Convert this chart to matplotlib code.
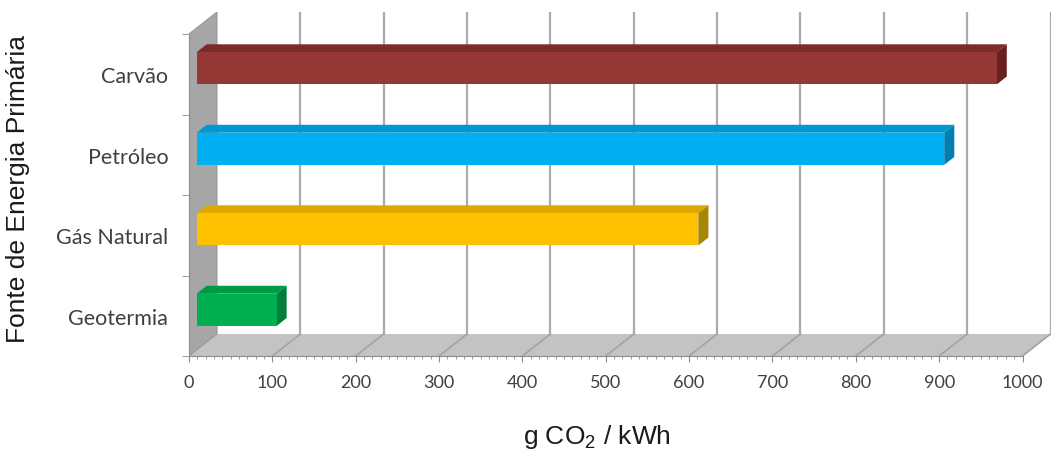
import matplotlib
matplotlib.use('Agg')
import matplotlib.pyplot as plt
from matplotlib.patches import Polygon, Rectangle
from matplotlib.ticker import FixedLocator

# data (bottom to top)
categories = ['Geotermia', 'Gás Natural', 'Petróleo', 'Carvão']
values = [96, 602, 897, 960]
front_colors = ['#00b050', '#ffc000', '#00b0f0', '#953735']
top_colors = ['#009944', '#dfa800', '#0098d2', '#7b2b29']
side_colors = ['#007f3a', '#a88400', '#0080b2', '#66211f']
x_ticks = list(range(0, 1001, 100))

# figure geometry in pixels (3D box of an Excel-style chart)
W, H = 1062, 456
x0_px, base_px = 189, 357
ppu = 0.8335          # pixels per g CO2/kWh
cat_px = 80.5         # pixels per category
Dx = 28 / ppu         # depth offset of the back wall, in data units
Dy = 22 / cat_px
f_front, f_back = 0.27, 0.63   # bar depth position inside the box
bar_h = 0.4

fig = plt.figure(figsize=(W / 100, H / 100), dpi=100)
xmax = 1000 + Dx
ymax = len(categories) + Dy
ax = fig.add_axes([x0_px / W, (H - base_px) / H, xmax * ppu / W, ymax * cat_px / H])
ax.set_xlim(0, xmax)
ax.set_ylim(0, ymax)
n = len(categories)

# floor
ax.add_patch(Polygon([(0, 0), (1000, 0), (1000 + Dx, Dy), (Dx, Dy)],
                     closed=True, facecolor='#c3c3c3', edgecolor='none', zorder=1))
# left wall
ax.add_patch(Polygon([(0, 0), (0, n), (Dx, n + Dy), (Dx, Dy)],
                     closed=True, facecolor='#a6a6a6', edgecolor='#999999', lw=0.8, zorder=2))

# grid lines on back wall and floor
for v in x_ticks[1:]:
    ax.plot([v + Dx, v + Dx], [Dy, n + Dy], color='#ababab', lw=1.6, zorder=1.5)
    ax.plot([v, v + Dx], [0, Dy], color='#a3a3a3', lw=1.2, zorder=1.5)

# bars: front face, top face, side face
for i, (v, fc, tc, sc) in enumerate(zip(values, front_colors, top_colors, side_colors)):
    yc = i + 0.5
    xf, yf = f_front * Dx, f_front * Dy
    xb, yb = f_back * Dx, f_back * Dy
    lo, hi = yc - bar_h / 2, yc + bar_h / 2
    ax.add_patch(Rectangle((xf, lo + yf), v, bar_h, facecolor=fc, edgecolor='none', zorder=4))
    ax.add_patch(Polygon([(xf, hi + yf), (xf + v, hi + yf), (xb + v, hi + yb), (xb, hi + yb)],
                         closed=True, facecolor=tc, edgecolor='none', zorder=3))
    ax.add_patch(Polygon([(xf + v, lo + yf), (xf + v, hi + yf), (xb + v, hi + yb), (xb + v, lo + yb)],
                         closed=True, facecolor=sc, edgecolor='none', zorder=3))

# axes styling
for s in ['top', 'right']:
    ax.spines[s].set_visible(False)
ax.spines['bottom'].set_bounds(0, 1000)
ax.spines['left'].set_bounds(0, n)
ax.spines['bottom'].set_color('#8c8c8c')
ax.spines['left'].set_color('#8c8c8c')
ax.spines['bottom'].set_zorder(5)

ax.xaxis.set_major_locator(FixedLocator(x_ticks))
ax.xaxis.set_minor_locator(FixedLocator(list(range(0, 1001, 10))))
ax.set_xticklabels([str(t) for t in x_ticks])
ax.tick_params(axis='x', which='major', length=4, color='#8c8c8c', pad=9,
               labelsize=13, labelcolor='#404040')
ax.tick_params(axis='x', which='minor', length=2, color='#8c8c8c')
for lab in ax.get_xticklabels():
    lab.set_family('Lato')

ax.yaxis.set_major_locator(FixedLocator([i + 0.5 for i in range(n)]))
ax.yaxis.set_minor_locator(FixedLocator(list(range(n + 1))))
ax.set_yticklabels(categories)
ax.tick_params(axis='y', which='major', length=0, pad=15, labelsize=15.5, labelcolor='#404040')
ax.tick_params(axis='y', which='minor', length=5, color='#8c8c8c')
for lab in ax.get_yticklabels():
    lab.set_family('Lato')

plt.rcParams['mathtext.fontset'] = 'custom'
plt.rcParams['mathtext.rm'] = 'Liberation Sans'
fig.text(18 / W, 1 - 189 / H, 'Fonte de Energia Primária', rotation=90, ha='center', va='center',
         fontsize=19, family='Liberation Sans', color='#1a1a1a')
fig.text(597 / W, 1 - 437 / H, r'g CO$_2$ / kWh', ha='center', va='center',
         fontsize=19, family='Liberation Sans', color='#1a1a1a')

fig.savefig('out.png', dpi=100)
